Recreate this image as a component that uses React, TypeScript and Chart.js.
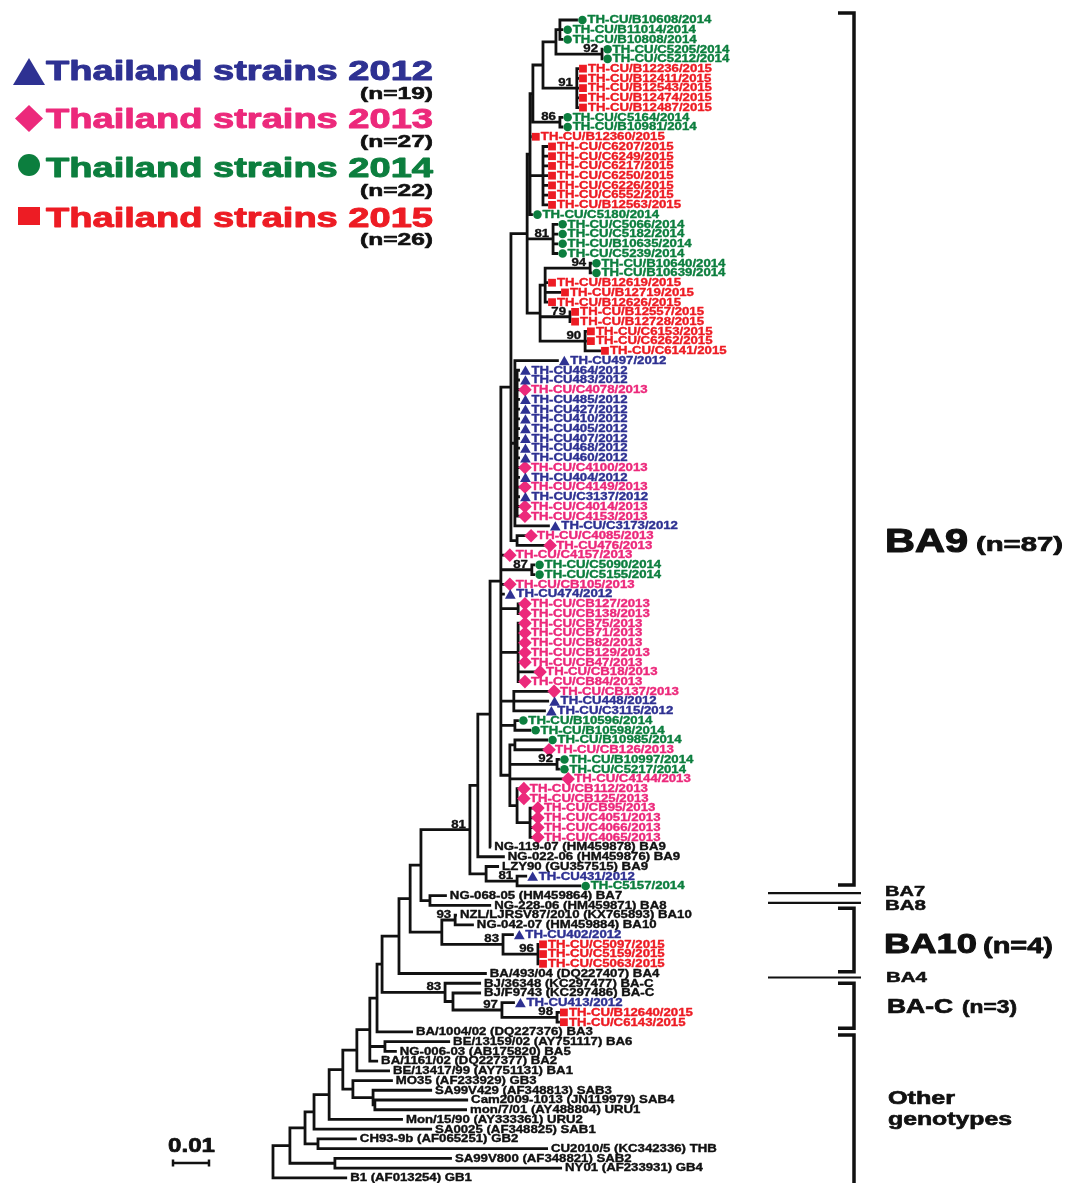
import React, { useEffect, useRef } from "react";
import { Chart, registerables } from "chart.js";

Chart.register(...registerables);

// ---------- DATA ----------
// group: 0 = reference strain, 1..4 = Thailand strains of the years below
const groupYears = [0, 2012, 2013, 2014, 2015];
const groupColors = ["#111111", "#2E3192", "#EC297B", "#0C7E3E", "#ED1C24"];

// leaves, top to bottom
const leafNames: string[] = [
  "TH-CU/B10608/2014", "TH-CU/B11014/2014", "TH-CU/B10808/2014", "TH-CU/C5205/2014", "TH-CU/C5212/2014",
  "TH-CU/B12236/2015", "TH-CU/B12411/2015", "TH-CU/B12543/2015", "TH-CU/B12474/2015", "TH-CU/B12487/2015",
  "TH-CU/C5164/2014", "TH-CU/B10981/2014", "TH-CU/B12360/2015", "TH-CU/C6207/2015", "TH-CU/C6249/2015",
  "TH-CU/C6217/2015", "TH-CU/C6250/2015", "TH-CU/C6226/2015", "TH-CU/C6552/2015", "TH-CU/B12563/2015",
  "TH-CU/C5180/2014", "TH-CU/C5066/2014", "TH-CU/C5182/2014", "TH-CU/B10635/2014", "TH-CU/C5239/2014",
  "TH-CU/B10640/2014", "TH-CU/B10639/2014", "TH-CU/B12619/2015", "TH-CU/B12719/2015", "TH-CU/B12626/2015",
  "TH-CU/B12557/2015", "TH-CU/B12728/2015", "TH-CU/C6153/2015", "TH-CU/C6262/2015", "TH-CU/C6141/2015",
  "TH-CU497/2012", "TH-CU464/2012", "TH-CU483/2012", "TH-CU/C4078/2013", "TH-CU485/2012",
  "TH-CU427/2012", "TH-CU410/2012", "TH-CU405/2012", "TH-CU407/2012", "TH-CU468/2012",
  "TH-CU460/2012", "TH-CU/C4100/2013", "TH-CU404/2012", "TH-CU/C4149/2013", "TH-CU/C3137/2012",
  "TH-CU/C4014/2013", "TH-CU/C4153/2013", "TH-CU/C3173/2012", "TH-CU/C4085/2013", "TH-CU476/2013",
  "TH-CU/C4157/2013", "TH-CU/C5090/2014", "TH-CU/C5155/2014", "TH-CU/CB105/2013", "TH-CU474/2012",
  "TH-CU/CB127/2013", "TH-CU/CB138/2013", "TH-CU/CB75/2013", "TH-CU/CB71/2013", "TH-CU/CB82/2013",
  "TH-CU/CB129/2013", "TH-CU/CB47/2013", "TH-CU/CB18/2013", "TH-CU/CB84/2013", "TH-CU/CB137/2013",
  "TH-CU448/2012", "TH-CU/C3115/2012", "TH-CU/B10596/2014", "TH-CU/B10598/2014", "TH-CU/B10985/2014",
  "TH-CU/CB126/2013", "TH-CU/B10997/2014", "TH-CU/C5217/2014", "TH-CU/C4144/2013", "TH-CU/CB112/2013",
  "TH-CU/CB125/2013", "TH-CU/CB95/2013", "TH-CU/C4051/2013", "TH-CU/C4066/2013", "TH-CU/C4065/2013",
  "NG-119-07 (HM459878) BA9", "NG-022-06 (HM459876) BA9", "LZY90 (GU357515) BA9", "TH-CU431/2012", "TH-C5157/2014",
  "NG-068-05 (HM459864) BA7", "NG-228-06 (HM459871) BA8", "NZL/LJRSV87/2010 (KX765893) BA10", "NG-042-07 (HM459884) BA10", "TH-CU402/2012",
  "TH-CU/C5097/2015", "TH-CU/C5159/2015", "TH-CU/C5063/2015", "BA/493/04 (DQ227407) BA4", "BJ/36348 (KC297477) BA-C",
  "BJ/F9743 (KC297486) BA-C", "TH-CU413/2012", "TH-CU/B12640/2015", "TH-CU/C6143/2015", "BA/1004/02 (DQ227376) BA3",
  "BE/13159/02 (AY751117) BA6", "NG-006-03 (AB175820) BA5", "BA/1161/02 (DQ227377) BA2", "BE/13417/99 (AY751131) BA1", "MO35 (AF233929) GB3",
  "SA99V429 (AF348813) SAB3", "Cam2009-1013 (JN119979) SAB4", "mon/7/01 (AY488804) URU1", "Mon/15/90 (AY333361) URU2", "SA0025 (AF348825) SAB1",
  "CH93-9b (AF065251) GB2", "CU2010/5 (KC342336) THB", "SA99V800 (AF348821) SAB2", "NY01 (AF233931) GB4", "B1 (AF013254) GB1",
];

const leafGroups: number[] = [
  3, 3, 3, 3, 3, 4, 4, 4, 4, 4,
  3, 3, 4, 4, 4, 4, 4, 4, 4, 4,
  3, 3, 3, 3, 3, 3, 3, 4, 4, 4,
  4, 4, 4, 4, 4, 1, 1, 1, 2, 1,
  1, 1, 1, 1, 1, 1, 2, 1, 2, 1,
  2, 2, 1, 2, 2, 2, 3, 3, 2, 1,
  2, 2, 2, 2, 2, 2, 2, 2, 2, 2,
  1, 1, 3, 3, 3, 2, 3, 3, 2, 2,
  2, 2, 2, 2, 2, 0, 0, 0, 1, 3,
  0, 0, 0, 0, 1, 4, 4, 4, 0, 0,
  0, 1, 4, 4, 0, 0, 0, 0, 0, 0,
  0, 0, 0, 0, 0, 0, 0, 0, 0, 0,
];

// distance of each tip from the root, in 10^-3 substitutions/site
const tipDepth: number[] = [
  84.7, 80.6, 80.6, 91.7, 91.7, 85.0, 85.0, 85.0, 85.0, 85.0,
  80.6, 80.6, 71.9, 76.4, 76.4, 76.4, 76.4, 76.4, 76.4, 76.4,
  72.2, 79.2, 79.2, 79.2, 79.2, 88.6, 88.6, 76.4, 80.0, 76.4,
  82.8, 82.8, 87.2, 87.2, 91.1, 79.4, 68.6, 68.6, 68.6, 68.6,
  68.6, 68.6, 68.6, 68.6, 68.6, 68.6, 68.6, 68.6, 68.6, 68.6,
  68.6, 68.6, 76.9, 70.3, 75.6, 64.4, 72.8, 72.8, 64.4, 64.4,
  68.6, 68.6, 68.6, 68.6, 68.6, 68.6, 68.6, 72.8, 68.6, 76.7,
  76.7, 75.8, 68.3, 71.7, 76.4, 75.3, 79.7, 79.7, 80.6, 68.3,
  68.3, 72.2, 72.2, 72.2, 72.2, 60.6, 64.4, 62.8, 70.6, 85.6,
  48.3, 60.6, 51.1, 55.8, 66.9, 73.9, 73.9, 73.9, 59.4, 57.8,
  57.8, 67.2, 79.7, 79.7, 38.9, 49.2, 34.4, 29.2, 32.5, 33.3,
  44.2, 54.2, 53.9, 36.1, 44.2, 23.3, 76.4, 49.7, 80.3, 20.6,
];

// internal nodes: [name, depth from root (10^-3 subst/site), children (leaf index or node name), bootstrap]
type Child = number | string;
const internalNodes: [string, number, Child[], number | null][] = [
  ["N2", 79.7, [0, 1, 2], null],
  ["N92a", 91.4, [3, 4], 92],
  ["N1", 78.6, ["N2", "N92a"], null],
  ["N91", 84.4, [5, 6, 7, 8, 9], 91],
  ["N3", 75.0, ["N1", "N91"], null],
  ["N86", 79.7, [10, 11], 86],
  ["N5", 72.2, ["N3", "N86"], null],
  ["N14", 75.0, [13, 14, 15, 16, 17, 18, 19], null],
  ["Top", 71.4, ["N5", 12, "N14", 20], null],
  ["N81a", 77.8, [21, 22, 23, 24], 81],
  ["N94", 88.1, [25, 26], 94],
  ["L1", 75.6, ["N94", 27, 28, 29], null],
  ["N79", 82.5, [30, 31], 79],
  ["N90", 86.7, [32, 33, 34], 90],
  ["L", 74.2, ["L1", "N79", "N90"], null],
  ["P1", 70.6, ["Top", "N81a", "L"], null],
  ["Qa", 67.8, [36, 37, 38, 39, 40, 41, 42, 43, 44, 45, 46, 47, 48, 49, 50, 51], null],
  ["Q", 67.2, [35, "Qa", 52], null],
  ["C", 67.8, [53, 54], null],
  ["Z", 66.1, ["P1", "Q", "C"], null],
  ["N87", 71.9, [56, 57], 87],
  ["NCB", 68.1, [60, 61], null],
  ["NCB2", 68.1, [62, 63, 64, 65, 66, 67, 68], null],
  ["U", 66.9, [69, 70, 71], null],
  ["V", 67.2, [72, 73], null],
  ["X1", 67.2, [74, 75], null],
  ["N92b", 78.9, [76, 77], 92],
  ["X3", 71.4, [81, 82, 83, 84], null],
  ["X2", 67.8, [79, 80, "X3"], null],
  ["W", 65.8, ["X1", "N92b", 78, "X2"], null],
  ["BIG", 63.3, ["Z", 55, "N87", 58, 59, "NCB", "NCB2", "U", "V", "W"], null],
  ["R", 60.3, ["BIG", 85], null],
  ["S", 56.9, ["R", 86], null],
  ["N81b", 67.8, [88, 89], 81],
  ["Nt", 59.2, [87, "N81b"], null],
  ["T", 54.7, ["S", "Nt"], 81],
  ["Ns", 43.6, [90, 91], null],
  ["Nr", 41.1, ["T", "Ns"], null],
  ["N93", 50.6, [92, 93], 93],
  ["N96", 73.6, [95, 96, 97], 96],
  ["N83a", 63.9, [94, "N96"], 83],
  ["Nq", 46.9, ["N93", "N83a"], null],
  ["Np", 38.1, ["Nr", "Nq"], null],
  ["Nl", 35.0, ["Np", 98], null],
  ["N98", 78.9, [102, 103], 98],
  ["N97", 63.6, [101, "N98"], 97],
  ["Nn", 50.0, [100, "N97"], null],
  ["Nm", 47.8, [99, "Nn"], 83],
  ["Nk", 30.3, ["Nl", "Nm"], null],
  ["Ni", 28.9, ["Nk", 104], null],
  ["Nj", 31.1, [105, 106], null],
  ["Nh", 26.9, ["Ni", "Nj", 107], null],
  ["Nf", 23.3, ["Nh", 108], null],
  ["Nsab4", 28.3, [111, 112], null],
  ["Nsab", 27.8, [110, "Nsab4"], null],
  ["Ng", 22.2, [109, "Nsab"], null],
  ["Ne", 19.4, ["Nf", "Ng"], null],
  ["Nd", 15.6, ["Ne", 113], null],
  ["Nc", 11.4, ["Nd", 114], null],
  ["Ngb2", 12.5, [115, 116], null],
  ["Nb", 8.9, ["Nc", "Ngb2"], null],
  ["Ngb4", 17.2, [117, 118], null],
  ["Na", 4.7, ["Nb", "Ngb4"], null],
  ["root", 0, ["Na", 119], null],
];

// genotype brackets (first leaf, last leaf) and single-line genotypes
const cladeBrackets: [string, number, number][] = [
  ["BA9", 0, 89],
  ["BA10", 92, 97],
  ["BA-C", 99, 103],
  ["Other", 104, 119],
];
const singleGenotypes: [string, number][] = [
  ["BA7", 90],
  ["BA8", 91],
  ["BA4", 98],
];
const SCALE_BAR = 10; // 10^-3 subst/site = 0.01

// ---------- LAYOUT HELPERS ----------
const nodeMap = new Map<string, [string, number, Child[], number | null]>();
internalNodes.forEach((n) => nodeMap.set(n[0], n));
const yMemo = new Map<string, number>();
function childY(c: Child): number {
  if (typeof c === "number") return c;
  if (yMemo.has(c)) return yMemo.get(c)!;
  const kids = nodeMap.get(c)![2];
  const y = (childY(kids[0]) + childY(kids[kids.length - 1])) / 2;
  yMemo.set(c, y);
  return y;
}
function childX(c: Child): number {
  return typeof c === "number" ? tipDepth[c] : nodeMap.get(c)![1];
}

const branchPoints: { x: number | null; y: number | null }[] = [];
internalNodes.forEach(([name, x, kids]) => {
  const y = childY(name);
  kids.forEach((k) => {
    const cy = childY(k);
    branchPoints.push({ x, y }, { x, y: cy }, { x: childX(k), y: cy }, { x: null, y: null });
  });
});

const FONT = '"Liberation Sans", Arial, Helvetica, sans-serif';
const markerStyle = ["circle", "triangle", "rectRot", "circle", "rect"];
const markerRadius = [0, 6.2, 6.8, 4.3, 5.5];
const markerDx = [0, 5.5, 5, 4.5, 4];
const markerDy = [0, 1.5, 0, 0, 0];
const labelGap = [3, 11.5, 11, 9.5, 9];
const LABEL_SIZE = 10.4;
const LABEL_STRETCH = 1.27;
// bracket pixel padding (top, bottom) relative to first/last leaf row
const bracketPad: [number, number][] = [[-7, -1], [-7, 8], [0, 6], [3, 30]];
const singlePad = [-2.5, -2.5, 4];

function heavyText(ctx: any, text: string, x: number, y: number, size: number, sx: number, color: string, align: "left" | "right" = "left") {
  ctx.save();
  ctx.font = `bold ${size}px ${FONT}`;
  ctx.fillStyle = color;
  ctx.strokeStyle = color;
  ctx.lineWidth = Math.max(0.35, size * 0.035);
  ctx.lineJoin = "round";
  ctx.textAlign = align;
  ctx.translate(x, y);
  ctx.scale(sx, 1);
  ctx.fillText(text, 0, 0);
  ctx.strokeText(text, 0, 0);
  ctx.restore();
}

function fitText(ctx: any, text: string, x0: number, x1: number, baseline: number, size: number, color: string) {
  ctx.save();
  ctx.font = `bold ${size}px ${FONT}`;
  const w = ctx.measureText(text).width;
  ctx.restore();
  ctx.textBaseline = "alphabetic";
  heavyText(ctx, text, x0, baseline, size, (x1 - x0) / w, color);
}

const markerShift = {
  id: "markerShift",
  afterDatasetsUpdate(chart: any) {
    chart.data.datasets.forEach((ds: any, i: number) => {
      if (!ds.groupId) return;
      chart.getDatasetMeta(i).data.forEach((el: any) => {
        el.x += markerDx[ds.groupId];
        el.y += markerDy[ds.groupId];
      });
    });
  },
};

const annotations = {
  id: "annotations",
  afterDatasetsDraw(chart: any) {
    const ctx = chart.ctx as any;
    const xs = chart.scales.x;
    const ys = chart.scales.y;
    ctx.save();

    // leaf labels
    ctx.textBaseline = "middle";
    leafNames.forEach((name, i) => {
      const g = leafGroups[i];
      heavyText(ctx, name, xs.getPixelForValue(tipDepth[i]) + labelGap[g], ys.getPixelForValue(i) + 0.5, LABEL_SIZE, LABEL_STRETCH, groupColors[g]);
    });

    // bootstrap values
    ctx.textBaseline = "alphabetic";
    internalNodes.forEach(([name, x, , bs]) => {
      if (bs == null) return;
      heavyText(ctx, String(bs), xs.getPixelForValue(x) - 4, ys.getPixelForValue(childY(name)) - 2, LABEL_SIZE, LABEL_STRETCH, "#111", "right");
    });

    // legend
    const legendBase = [80, 128, 177, 227];
    const countBase = [99, 147, 196, 245];
    for (let g = 1; g <= 4; g++) {
      const c = groupColors[g];
      ctx.fillStyle = c;
      ctx.beginPath();
      if (g === 1) {
        ctx.moveTo(13, 85); ctx.lineTo(45, 85); ctx.lineTo(29, 58); ctx.closePath();
      } else if (g === 2) {
        ctx.moveTo(15, 118.5); ctx.lineTo(29, 105); ctx.lineTo(43, 118.5); ctx.lineTo(29, 132); ctx.closePath();
      } else if (g === 3) {
        ctx.arc(29, 165, 11, 0, Math.PI * 2);
      } else {
        ctx.rect(18, 207, 22, 18);
      }
      ctx.fill();
      fitText(ctx, `Thailand strains ${groupYears[g]}`, 46, 433, legendBase[g - 1], 28, c);
      const n = leafGroups.filter((v) => v === g).length;
      fitText(ctx, `(n=${n})`, 360, 433, countBase[g - 1], 17, "#111");
    }

    // genotype brackets
    ctx.strokeStyle = "#111";
    ctx.lineWidth = 3.5;
    ctx.lineJoin = "miter";
    ctx.lineCap = "butt";
    cladeBrackets.forEach(([, a, b], k) => {
      const top = ys.getPixelForValue(a) + bracketPad[k][0];
      const bot = ys.getPixelForValue(b) + bracketPad[k][1];
      ctx.beginPath();
      ctx.moveTo(838, top);
      ctx.lineTo(854, top);
      ctx.lineTo(854, bot);
      ctx.lineTo(838, bot);
      ctx.stroke();
    });
    ctx.lineWidth = 2.2;
    singleGenotypes.forEach(([, r], k) => {
      const y = ys.getPixelForValue(r) + singlePad[k];
      ctx.beginPath();
      ctx.moveTo(768, y);
      ctx.lineTo(861, y);
      ctx.stroke();
    });

    const count = (a: number, b: number) => leafGroups.slice(a, b + 1).filter((g) => g > 0).length;
    fitText(ctx, "BA9", 885, 968, 552, 33, "#111");
    fitText(ctx, `(n=${count(0, 89)})`, 976, 1063, 551, 21, "#111");
    fitText(ctx, "BA7", 885, 925, 896, 14, "#111");
    fitText(ctx, "BA8", 885, 926, 910, 14, "#111");
    fitText(ctx, "BA10", 884, 977, 953, 28, "#111");
    fitText(ctx, `(n=${count(92, 97)})`, 983, 1053, 953, 22, "#111");
    fitText(ctx, "BA4", 886, 927, 982, 14, "#111");
    fitText(ctx, "BA-C", 887, 953, 1013, 21, "#111");
    fitText(ctx, `(n=${count(99, 103)})`, 962, 1017, 1013, 18, "#111");
    fitText(ctx, "Other", 888, 955, 1104, 18, "#111");
    fitText(ctx, "genotypes", 888, 1012, 1125, 18, "#111");

    // scale bar
    const len = xs.getPixelForValue(SCALE_BAR) - xs.getPixelForValue(0);
    ctx.strokeStyle = "#111";
    ctx.lineWidth = 2.5;
    ctx.beginPath();
    ctx.moveTo(173, 1163); ctx.lineTo(173 + len, 1163);
    ctx.moveTo(173, 1159.5); ctx.lineTo(173, 1166.5);
    ctx.moveTo(173 + len, 1159.5); ctx.lineTo(173 + len, 1166.5);
    ctx.stroke();
    fitText(ctx, (SCALE_BAR / 1000).toFixed(2), 168, 215, 1152, 20, "#111");

    ctx.restore();
  },
};

export default function App() {
  const ref = useRef<HTMLCanvasElement>(null);
  useEffect(() => {
    const markerSets = [1, 2, 3, 4].map((g) => ({
      groupId: g,
      data: leafNames.map((_, i) => i).filter((i) => leafGroups[i] === g).map((i) => ({ x: tipDepth[i], y: i })),
      pointStyle: markerStyle[g],
      pointRadius: markerRadius[g],
      pointBackgroundColor: groupColors[g],
      pointBorderColor: groupColors[g],
      pointBorderWidth: 0,
      showLine: false,
      order: 0,
    }));
    const chart = new Chart(ref.current!, {
      type: "scatter",
      data: {
        datasets: [
          {
            data: branchPoints as any,
            showLine: true,
            spanGaps: false,
            borderColor: "#111",
            borderWidth: 2.8,
            borderJoinStyle: "miter",
            borderCapStyle: "butt",
            pointRadius: 0,
            tension: 0,
            order: 10,
          } as any,
          ...(markerSets as any[]),
        ],
      },
      options: {
        animation: false,
        responsive: false,
        devicePixelRatio: 1,
        events: [],
        layout: { padding: 0, autoPadding: false },
        plugins: { legend: { display: false }, tooltip: { enabled: false } },
        scales: {
          x: { type: "linear", min: -75.83, max: 223.06, display: false, bounds: "data" },
          y: { type: "linear", min: -2.055, max: 119.53, reverse: true, display: false, bounds: "data" },
        },
      } as any,
      plugins: [markerShift, annotations],
    });
    return () => chart.destroy();
  }, []);
  return (
    <div style={{ position: "absolute", left: 0, top: 0, width: 1076, height: 1183, background: "#fff" }}>
      <canvas ref={ref} width={1076} height={1183} style={{ display: "block" }} />
    </div>
  );
}
